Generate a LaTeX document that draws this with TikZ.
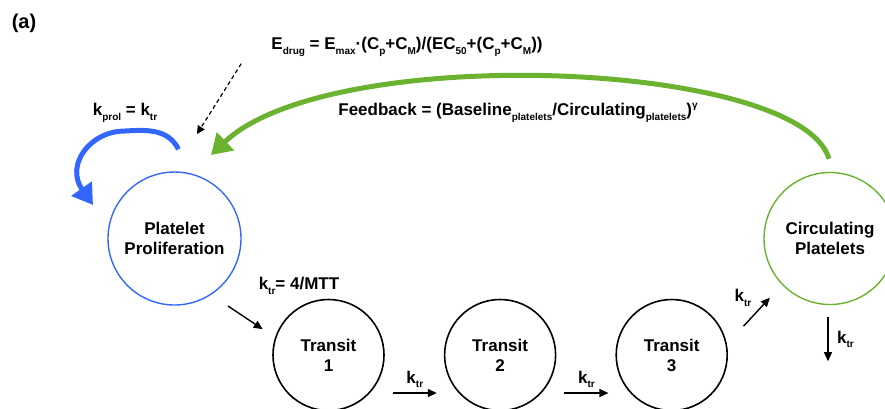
\documentclass[tikz,border=0pt]{standalone}
\usepackage{fontspec}
\setmainfont{Liberation Sans}
\usetikzlibrary{arrows.meta,positioning}
\definecolor{pkblue}{RGB}{51,102,255}
\definecolor{pkgreen}{RGB}{106,178,48}
\newcommand{\lo}[1]{\raisebox{-4.5pt}{\fontsize{10}{10}\selectfont #1}}
\newcommand{\hi}[1]{\raisebox{7pt}{\fontsize{10}{10}\selectfont #1}}

\begin{document}
\begin{tikzpicture}[
  x=1pt, y=-1pt,
  font=\fontsize{17}{20}\selectfont\bfseries,
  node distance=59pt,
  comp/.style={circle, draw, line width=1.6pt, align=center, inner sep=0pt},
  flow/.style={-{Triangle[length=9pt,width=8pt]}, line width=1.4pt},
  bigarc/.style={-{Triangle[length=20pt,width=24pt]}, line width=5pt},
  lab/.style={inner sep=1pt},
]
\useasboundingbox (0,0) rectangle (885,408);
\clip (0,0) rectangle (885,408);

\node[lab, font=\fontsize{20}{24}\selectfont\bfseries] (tag) at (24,23) {(a)};

% compartments
\node[comp, draw=pkblue, line width=1.4pt, minimum size=133pt] (pp) at (174.5,238.5) {Platelet\\Proliferation};
\node[comp, minimum size=111pt] (t1) at (328.5,355) {Transit\\1};
\node[comp, minimum size=111pt, right=of t1] (t2) {Transit\\2};
\node[comp, minimum size=111pt, right=of t2] (t3) {Transit\\3};
\node[comp, draw=pkgreen, line width=1.4pt, minimum size=132pt] (cp) at (830,238.5) {Circulating\\Platelets};

% labels
\node[lab] (edrug) at (407,47) {E\lo{drug} = E\lo{max}·(C\lo{p}+C\lo{M})/(EC\lo{50}+(C\lo{p}+C\lo{M}))};
\node[lab] (fb) at (518,113) {Feedback = (Baseline\lo{platelets}/Circulating\lo{platelets})\hi{γ}};
\node[lab] (kprol) at (125,113) {k\lo{prol} = k\lo{tr}};
\node[lab] (kmtt) at (299,286) {k\lo{tr}= 4/MTT};

% transit chain
\draw[flow] ([shift={(6,20)}]pp.south east) -- ([shift={(-26,14)}]t1.north west);
\draw[flow] ([shift={(8,38)}]t1.east) -- node[above=1pt] {k\lo{tr}} ([shift={(-7,38)}]t2.west);
\draw[flow] ([shift={(8,38)}]t2.east) -- node[above=1pt] {k\lo{tr}} ([shift={(-7,38)}]t3.west);
\draw[flow] ([shift={(32,11)}]t3.north east) -- node[above left=2pt] {k\lo{tr}} ([shift={(-13,12)}]cp.south west);
\draw[flow] ([shift={(-2,12)}]cp.south) -- node[right=5pt] {k\lo{tr}} ([shift={(-2,56)}]cp.south);

% drug effect and feedback
\coordinate (dtip) at (197,134);
\draw[dashed, dash pattern=on 4pt off 3pt, line width=1.2pt, -{Triangle[length=8pt,width=8pt]}]
  ([shift={(-29,6)}]edrug.south west) -- (dtip);
\coordinate (fbtip) at (211,155);
\draw[bigarc, pkgreen] ([shift={(-1,-13)}]cp.north) .. controls (800,60) and (330,42) .. (fbtip);

% proliferation loop
\coordinate (looptip) at (93,205);
\draw[bigarc, pkblue] ([shift={(4,-22)}]pp.north) .. controls (168,128) and (145,130) .. (125,131)
  .. controls (90,131) and (65,165) .. (looptip);
\end{tikzpicture}
\end{document}
